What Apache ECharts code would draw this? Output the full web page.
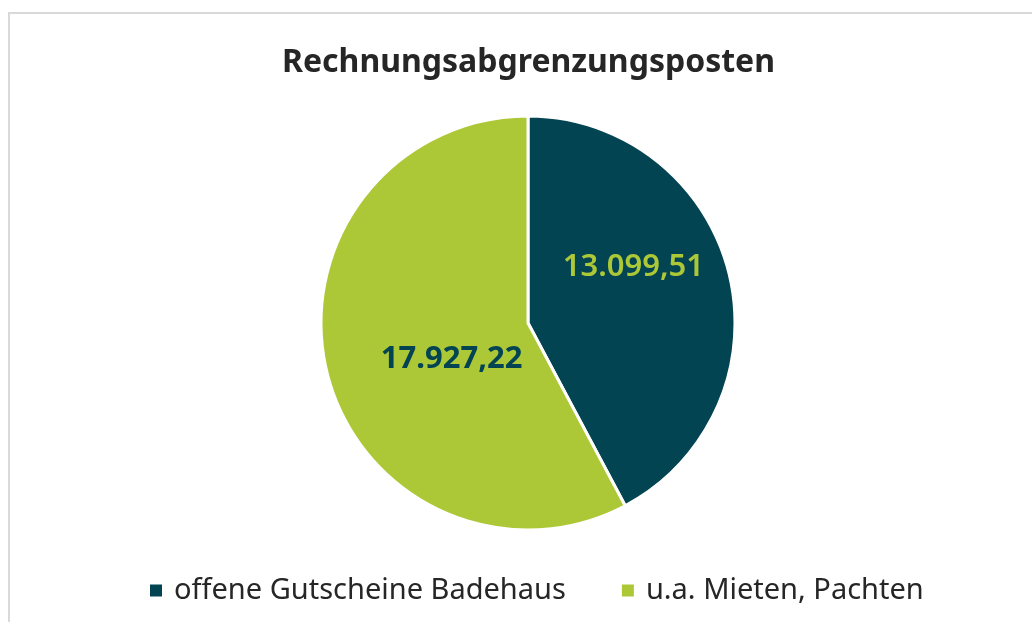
<!DOCTYPE html>
<html><head><meta charset="utf-8">
<script src="https://cdn.jsdelivr.net/npm/echarts@6/dist/echarts.min.js"></script>
<style>
html,body{margin:0;padding:0;background:#fff;overflow:hidden;}
#frame{position:absolute;left:8px;top:12px;width:1100px;height:700px;border:2px solid #d9d9d9;box-sizing:border-box;}
#c{position:absolute;left:0;top:0;width:1032px;height:622px;}
</style></head>
<body>
<div id="frame"></div>
<div id="c"></div>
<script>
const title = 'Rechnungsabgrenzungsposten';
const categories = ['offene Gutscheine Badehaus', 'u.a. Mieten, Pachten'];
const values = [13099.51, 17927.22];
const colors = ['#034453', '#adc837'];
const labelColors = ['#adc837', '#034453'];
const labelOffsets = [[2, -30], [27, 10]];

function fmt(v){
  const parts = v.toFixed(2).split('.');
  return parts[0].replace(/\B(?=(\d{3})+(?!\d))/g, '.') + ',' + parts[1];
}

const chart = echarts.init(document.getElementById('c'));
chart.setOption({
  animation: false,
  title: {
    text: title, left: 277, top: 42,
    textStyle: {fontFamily: 'Noto Sans', fontSize: 32, fontWeight: 'bold', color: '#262626'}
  },
  legend: {
    bottom: 12, left: 143, itemWidth: 14, itemHeight: 14, itemGap: 54, icon: 'rect',
    textStyle: {fontFamily: 'Noto Sans', fontSize: 29, color: '#262626', padding: [0, 0, 0, 6]},
    data: categories
  },
  series: [{
    type: 'pie',
    center: [528, 323],
    radius: 207,
    startAngle: 90,
    clockwise: true,
    itemStyle: {borderColor: '#ffffff', borderWidth: 3},
    label: {position: 'inside', fontFamily: 'Noto Sans', fontSize: 31, fontWeight: 600},
    labelLine: {show: false},
    emphasis: {disabled: true},
    data: categories.map((n, i) => ({
      name: n, value: values[i],
      itemStyle: {color: colors[i]},
      label: {color: labelColors[i], offset: labelOffsets[i], formatter: () => fmt(values[i]), fontWeight: i === 1 ? 'bold' : 600}
    }))
  }]
});
</script>
</body></html>
